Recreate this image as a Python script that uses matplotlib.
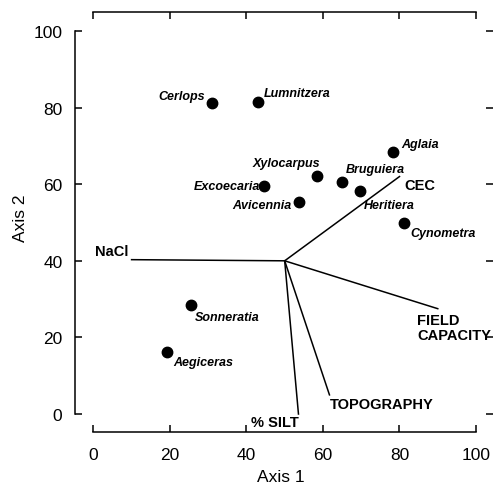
import matplotlib

matplotlib.use("Agg")
import matplotlib.pyplot as plt

plt.rcParams["font.family"] = ["Liberation Sans", "DejaVu Sans"]

# species ordination scores
species = ["Cerlops", "Lumnitzera", "Aglaia", "Xylocarpus", "Bruguiera", "Heritiera",
           "Excoecaria", "Avicennia", "Cynometra", "Sonneratia", "Aegiceras"]
axis1 = [31.0, 42.9, 78.4, 58.4, 65.1, 69.8, 44.6, 53.7, 81.2, 25.4, 19.2]
axis2 = [81.1, 81.4, 68.5, 62.1, 60.5, 58.1, 59.5, 55.3, 50.0, 28.5, 16.1]

# environmental vectors (biplot arrows from a common origin)
vec_origin = (50.0, 40.0)
vectors = ["NaCl", "CEC", "FIELD\nCAPACITY", "TOPOGRAPHY", "% SILT"]
vec_x = [10.0, 80.0, 90.0, 61.7, 53.6]
vec_y = [40.3, 62.0, 27.5, 5.0, 0.0]

ticks = [0, 20, 40, 60, 80, 100]

# label placement (offset points, alignment)
sp_lab = {
    "Cerlops": (-5, 3, "right"),
    "Lumnitzera": (4.7, 4.5, "left"),
    "Aglaia": (5.8, 3.4, "left"),
    "Xylocarpus": (2.4, 7.6, "right"),
    "Bruguiera": (2.2, 7.2, "left"),
    "Heritiera": (2.7, -12, "left"),
    "Excoecaria": (-2.9, -2.4, "right"),
    "Avicennia": (-5, -4.1, "right"),
    "Cynometra": (4.3, -9.6, "left"),
    "Sonneratia": (3.1, -10.8, "left"),
    "Aegiceras": (4.3, -9.1, "left"),
}
vec_lab = {
    "NaCl": (9.1, 41.5, "right", "baseline"),
    "CEC": (81.2, 59.8, "left", "center"),
    "FIELD\nCAPACITY": (84.7, 26.3, "left", "top"),
    "TOPOGRAPHY": (61.7, 2.6, "left", "center"),
    "% SILT": (41.1, -2.2, "left", "center"),
}

fig = plt.figure(figsize=(4.93, 4.85), dpi=100)
ax = fig.add_axes([0.1893, 0.1443, 0.7763, 0.7897])
ax.set_xlim(0, 100)
ax.set_ylim(0, 100)

for name, ex, ey in zip(vectors, vec_x, vec_y):
    ax.plot([vec_origin[0], ex], [vec_origin[1], ey], color="black", lw=1.1,
            clip_on=False)
    tx, ty, ha, va = vec_lab[name]
    ax.text(tx, ty, name, ha=ha, va=va, fontsize=10.5, fontweight="bold",
            linespacing=1.05)

ax.plot(axis1, axis2, "o", color="black", ms=7.5, clip_on=False)
for name, x, y in zip(species, axis1, axis2):
    dx, dy, ha = sp_lab[name]
    ax.annotate(name, (x, y), xytext=(dx, dy), textcoords="offset points",
                ha=ha, va="baseline", fontsize=9, fontweight="bold",
                fontstyle="italic")

# detached frame: each spine pushed outward, ticks pointing in
ax.spines["left"].set_position(("outward", 13.2))
ax.spines["bottom"].set_position(("outward", 13.0))
ax.spines["top"].set_position(("outward", 13.7))
ax.spines["right"].set_position(("outward", 12.2))
ax.spines["left"].set_bounds(0, 100)
ax.spines["bottom"].set_bounds(0, 100)
ax.spines["top"].set_bounds(0, 100)
ax.spines["right"].set_color("none")
for s in ax.spines.values():
    s.set_linewidth(1.1)

ax.set_xticks(ticks)
ax.set_yticks(ticks)
ax.tick_params(direction="in", length=5, width=1.1, color="black",
               labelsize=12.5, top=True, right=True)
ax.tick_params(axis="y", pad=9)
ax.tick_params(axis="x", pad=10.5)

ax.text(0.49, -0.162, "Axis 1", transform=ax.transAxes, ha="center",
        va="center", fontsize=12.5)
ax.text(-0.191, 0.514, "Axis 2", transform=ax.transAxes, ha="center",
        va="center", rotation=90, fontsize=12.5)

fig.savefig("out.png", dpi=100)
